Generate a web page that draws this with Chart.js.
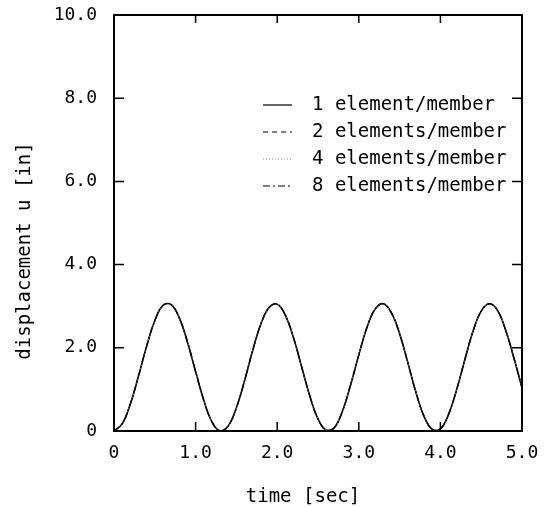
<!DOCTYPE html>
<html>
<head>
<meta charset="utf-8">
<script src="https://cdn.jsdelivr.net/npm/chart.js"></script>
<style>
  html, body { margin: 0; padding: 0; background: #fff; }
  #wrap { width: 546px; height: 507px; }
</style>
</head>
<body>
<div id="wrap"><canvas id="chart"></canvas></div>
<script>
// values
const time = [0, 0.1, 0.2, 0.3, 0.4, 0.5, 0.6, 0.7, 0.8, 0.9, 1.0,
  1.1, 1.2, 1.3, 1.4, 1.5, 1.6, 1.7, 1.8, 1.9, 2.0,
  2.1, 2.2, 2.3, 2.4, 2.5, 2.6, 2.7, 2.8, 2.9, 3.0,
  3.1, 3.2, 3.3, 3.4, 3.5, 3.6, 3.7, 3.8, 3.9, 4.0,
  4.1, 4.2, 4.3, 4.4, 4.5, 4.6, 4.7, 4.8, 4.9, 5.0];
// all four meshes give the same curve in the figure
const displacement = [0, 0.17, 0.65, 1.32, 2.04, 2.65, 3.02, 3.04, 2.72, 2.14, 1.43,
  0.74, 0.22, 0.0, 0.12, 0.56, 1.21, 1.94, 2.57, 2.97, 3.05,
  2.78, 2.24, 1.54, 0.84, 0.29, 0.02, 0.08, 0.48, 1.11, 1.83,
  2.49, 2.93, 3.06, 2.84, 2.34, 1.65, 0.93, 0.35, 0.04, 0.05,
  0.4, 1.0, 1.72, 2.4, 2.88, 3.06, 2.9, 2.42, 1.76, 1.04];
const seriesNames = ['1 element/member', '2 elements/member', '4 elements/member', '8 elements/member'];
const seriesDash = [[], [5, 4], [1, 2], [7, 3, 2, 3]];
const xTicks = [0, 1, 2, 3, 4, 5];
const xTickLabels = ['0', '1.0', '2.0', '3.0', '4.0', '5.0'];
const yTicks = [0, 2, 4, 6, 8, 10];
const yTickLabels = ['0', '2.0', '4.0', '6.0', '8.0', '10.0'];

const FONT = "'DejaVu Sans Mono', monospace";

const points = time.map((t, i) => ({ x: t, y: displacement[i] }));

const datasets = seriesNames.map((name, i) => ({
  label: name,
  data: points,
  borderColor: i === 2 ? '#888' : '#000',
  borderWidth: i === 0 ? 1.6 : 1.2,
  borderDash: seriesDash[i],
  pointRadius: 0,
  fill: false,
  tension: 0.4,
  order: 3 - i,
})).reverse();

// frame, inward ticks, legend and axis titles
const frame = {
  id: 'frame',
  afterDraw(chart) {
    const { ctx, chartArea: a, scales } = chart;
    ctx.save();
    ctx.strokeStyle = '#000';
    ctx.lineWidth = 2;
    ctx.strokeRect(a.left, a.top, a.right - a.left, a.bottom - a.top);
    ctx.lineWidth = 1.5;
    ctx.beginPath();
    xTicks.slice(1, -1).forEach((v) => {
      const px = scales.x.getPixelForValue(v);
      ctx.moveTo(px, a.bottom); ctx.lineTo(px, a.bottom - 9);
      ctx.moveTo(px, a.top); ctx.lineTo(px, a.top + 8);
    });
    yTicks.slice(1, -1).forEach((v) => {
      const py = scales.y.getPixelForValue(v);
      ctx.moveTo(a.left, py); ctx.lineTo(a.left + 10, py);
      ctx.moveTo(a.right, py); ctx.lineTo(a.right - 10, py);
    });
    ctx.stroke();

    // legend
    ctx.font = '19px ' + FONT;
    ctx.textBaseline = 'middle';
    ctx.fillStyle = '#000';
    seriesNames.forEach((name, i) => {
      const y = a.top + 90 + i * 27;
      ctx.beginPath();
      ctx.setLineDash(seriesDash[i]);
      ctx.lineWidth = 1.2;
      ctx.strokeStyle = i === 2 ? '#888' : '#000';
      ctx.moveTo(a.left + 149, y); ctx.lineTo(a.left + 178, y);
      ctx.stroke();
      ctx.setLineDash([]);
      ctx.fillText(name, a.left + 198, y);
    });

    // axis titles
    ctx.textAlign = 'center';
    ctx.fillText('time [sec]', (a.left + a.right) / 2 - 15, 497);
    ctx.translate(25, a.top + 236);
    ctx.rotate(-Math.PI / 2);
    ctx.fillText('displacement u [in]', 0, 0);
    ctx.restore();
  },
};

new Chart(document.getElementById('chart'), {
  type: 'line',
  data: { datasets },
  options: {
    responsive: true,
    maintainAspectRatio: false,
    animation: false,
    layout: { padding: { left: 0, top: 15, right: 24, bottom: 0 } },
    plugins: { legend: { display: false }, tooltip: { enabled: false } },
    scales: {
      x: {
        type: 'linear',
        min: 0,
        max: 5,
        afterFit: (s) => { s.height = 76; s.paddingLeft = 0; s.paddingRight = 0; },
        afterBuildTicks: (s) => { s.ticks = xTicks.map((v) => ({ value: v })); },
        grid: { display: false, drawTicks: false },
        border: { display: false },
        ticks: {
          padding: 12,
          color: '#000',
          font: { family: FONT, size: 18 },
          maxRotation: 0,
          callback: (v) => xTickLabels[xTicks.indexOf(v)],
        },
      },
      y: {
        min: 0,
        max: 10,
        afterFit: (s) => { s.width = 114; s.paddingTop = 0; s.paddingBottom = 0; },
        afterBuildTicks: (s) => { s.ticks = yTicks.map((v) => ({ value: v })); },
        grid: { display: false, drawTicks: false },
        border: { display: false },
        ticks: {
          padding: 17,
          color: '#000',
          font: { family: FONT, size: 18 },
          callback: (v) => yTickLabels[yTicks.indexOf(v)],
        },
      },
    },
  },
  plugins: [frame],
});
</script>
</body>
</html>
